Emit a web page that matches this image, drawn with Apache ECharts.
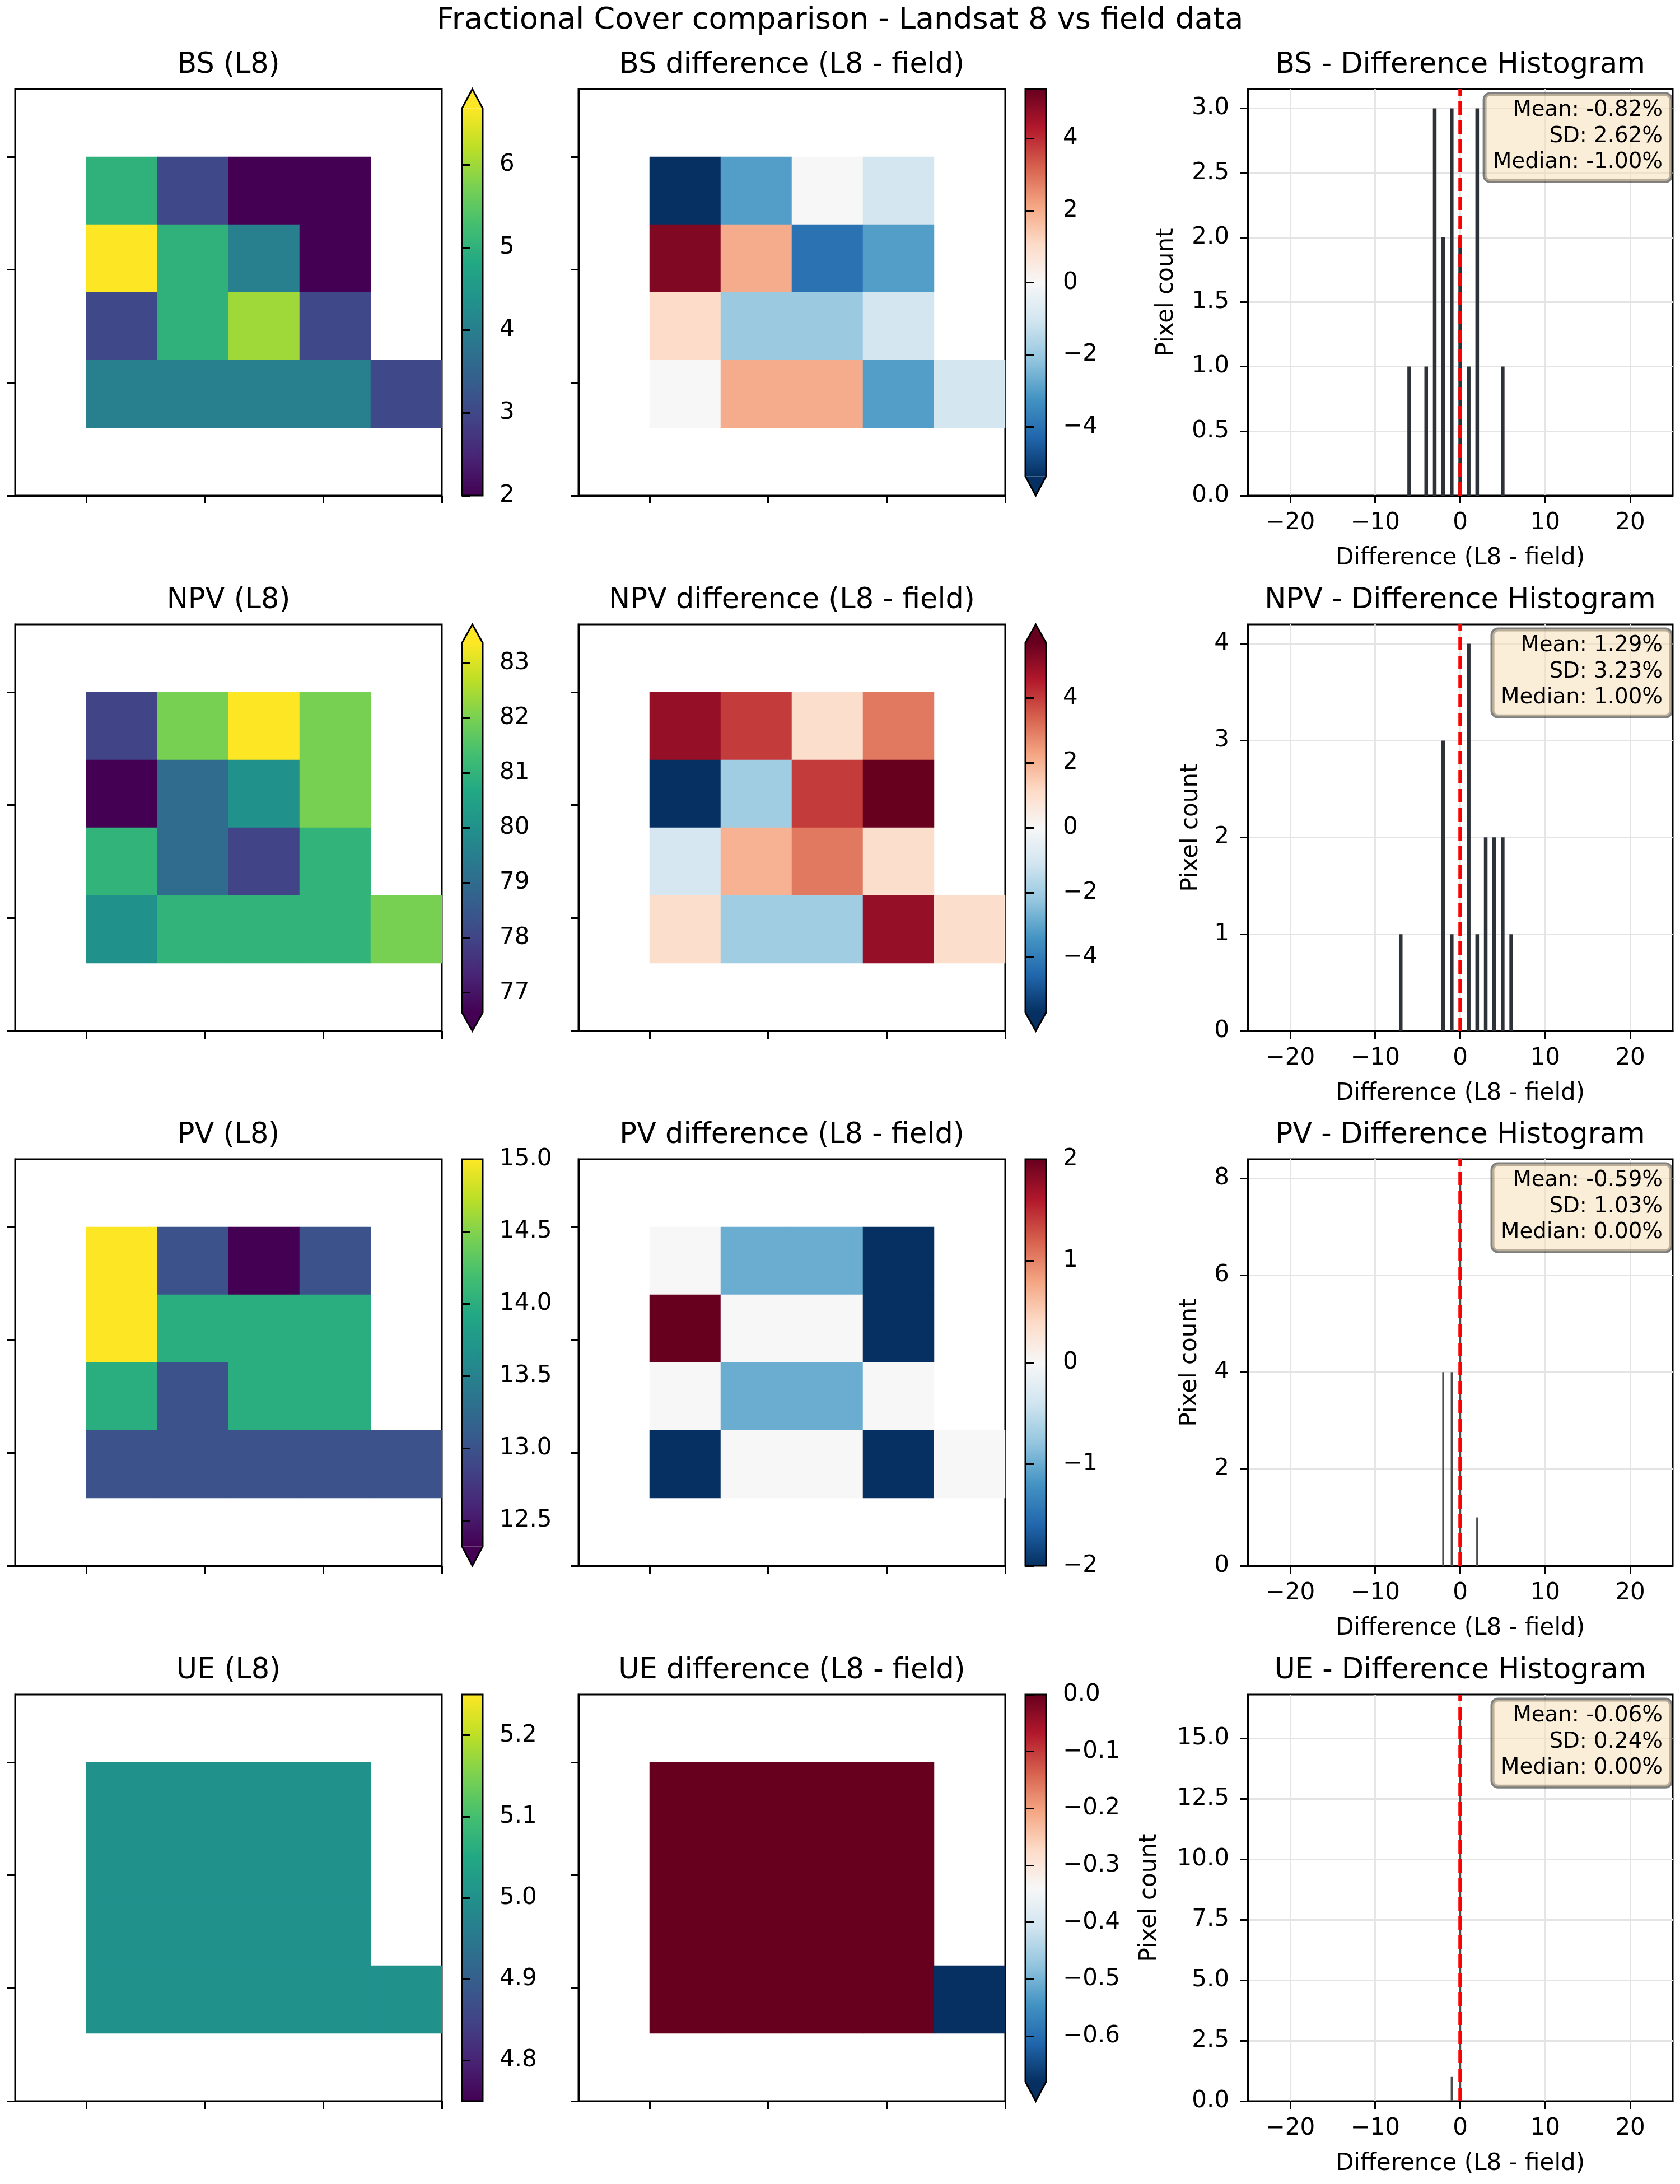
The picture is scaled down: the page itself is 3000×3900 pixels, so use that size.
<!DOCTYPE html>
<html>
<head>
<meta charset="utf-8">
<script src="https://cdn.jsdelivr.net/npm/echarts@6/dist/echarts.min.js"></script>
<style>
  html, body { margin: 0; padding: 0; background: #fff; }
  #chart { width: 3000px; height: 3900px; }
</style>
</head>
<body>
<div id="chart"></div>
<script>
// ---------------- data ----------------
const covers = ['BS', 'NPV', 'PV', 'UE'];

// L8 cover values: rows 1-4 / cols 1-5 of the 6x6 image (null = no data)
const bsL8  = [[5, 3, 2, 2, null], [7, 5, 4, 2, null], [3, 5, 6, 3, null], [4, 4, 4, 4, 3]];
const npvL8 = [[78, 82, 84, 82, null], [76, 79, 80, 82, null], [81, 79, 78, 81, null], [80, 81, 81, 81, 82]];
const pvL8  = [[15, 13, 12, 13, null], [15, 14, 14, 14, null], [14, 13, 14, 14, null], [13, 13, 13, 13, 13]];
const ueL8  = [[5, 5, 5, 5, null], [5, 5, 5, 5, null], [5, 5, 5, 5, null], [5, 5, 5, 5, 5]];

// L8 - field differences, same layout
const bsDiff  = [[-6, -3, 0, -1, null], [5, 2, -4, -3, null], [1, -2, -2, -1, null], [0, 2, 2, -3, -1]];
const npvDiff = [[5, 4, 1, 3, null], [-7, -2, 4, 6, null], [-1, 2, 3, 1, null], [1, -2, -2, 5, 1]];
const pvDiff  = [[0, -1, -1, -2, null], [2, 0, 0, -2, null], [0, -1, -1, 0, null], [-2, 0, 0, -2, 0]];
const ueDiff  = [[0, 0, 0, 0, null], [0, 0, 0, 0, null], [0, 0, 0, 0, null], [0, 0, 0, 0, -1]];

// colour scale limits and colourbar ticks
const l8Range    = [[2, 6.68], [76.64, 83.37], [12.32, 15.0], [4.75, 5.25]];
const diffRange  = [[-5.37, 5.37], [-5.7, 5.7], [-2, 2], [-0.68, 0]];
const l8Extend   = ['max', 'both', 'min', 'neither'];
const diffExtend = ['min', 'both', 'neither', 'min'];
const l8Ticks    = [[2, 3, 4, 5, 6], [77, 78, 79, 80, 81, 82, 83], [12.5, 13, 13.5, 14, 14.5, 15], [4.8, 4.9, 5.0, 5.1, 5.2]];
const diffTicks  = [[-4, -2, 0, 2, 4], [-4, -2, 0, 2, 4], [-2, -1, 0, 1, 2], [-0.6, -0.5, -0.4, -0.3, -0.2, -0.1, 0]];
const l8Dec   = [0, 0, 1, 1];
const diffDec = [0, 0, 0, 1];

// histograms of the differences
const histBins   = [[-6, -4, -3, -2, -1, 0, 1, 2, 5], [-7, -2, -1, 1, 2, 3, 4, 5, 6], [-2, -1, 0, 2], [-1, 0]];
const histCounts = [[1, 1, 3, 2, 3, 2, 1, 3, 1], [1, 3, 1, 4, 1, 2, 2, 2, 1], [4, 4, 8, 1], [1, 16]];
const histYMax   = [3.15, 4.2, 8.4, 16.8];
const histYTicks = [[0, 0.5, 1, 1.5, 2, 2.5, 3], [0, 1, 2, 3, 4], [0, 2, 4, 6, 8], [0, 2.5, 5, 7.5, 10, 12.5, 15]];
const histYDec   = [1, 0, 0, 1];
const histXTicks = [-20, -10, 0, 10, 20];
const statMean   = ['-0.82%', '1.29%', '-0.59%', '-0.06%'];
const statSD     = ['2.62%', '3.23%', '1.03%', '0.24%'];
const statMedian = ['-1.00%', '1.00%', '0.00%', '0.00%'];

const heatTicks = [1, 8 / 3, 13 / 3, 6];
const cells = ['0', '1', '2', '3', '4', '5'];

// ---------------- colour maps ----------------
const VIRIDIS = ['#440154', '#482475', '#414487', '#355f8d', '#2a788e', '#21918c',
                 '#22a884', '#44bf70', '#7ad151', '#bddf26', '#fde725'];
const RDBU_R = ['#053061', '#2166ac', '#4393c3', '#92c5de', '#d1e5f0', '#f7f7f7',
                '#fddbc7', '#f4a582', '#d6604d', '#b2182b', '#67001f'];

// ---------------- layout (px) ----------------
const ROW_TOP = [159, 1115, 2070, 3026];
const AX_H = 726;
const HEAT_L = [27, 1033], HEAT_W = [762, 762];
const CB_L = [825, 1831], CB_W = 37;
const HIST_L = 2228, HIST_W = 759;
const Y_NAME_GAP = [124, 80, 82, 154];
const FONT = 'DejaVu Sans';

function fmt(v, d) {
  const s = Math.abs(v).toFixed(d);
  return v < 0 ? '\u2212' + s : s;
}

const grids = [], xAxes = [], yAxes = [], series = [], visualMaps = [], graphics = [];

function addGrid(opt) {
  grids.push(Object.assign({ containLabel: false }, opt));
  return grids.length - 1;
}

function tickAxis(g, pos, inverse) {
  return {
    gridIndex: g, type: 'value', min: 0, max: 6, position: pos, inverse: inverse,
    axisLine: { show: true, onZero: false, lineStyle: { color: '#000', width: 3 } },
    axisTick: { show: true, length: 14, customValues: heatTicks, lineStyle: { color: '#000', width: 3 } },
    axisLabel: { show: false }, splitLine: { show: false }
  };
}

function heatPanel(row, col, block, range, cmap, title) {
  const top = ROW_TOP[row], left = HEAT_L[col], w = HEAT_W[col];
  const g = addGrid({ left: left, top: top, width: w, height: AX_H, show: true,
    borderColor: '#000', borderWidth: 3, backgroundColor: '#fff' });
  const xc = xAxes.length;
  xAxes.push({ gridIndex: g, type: 'category', data: cells, show: false });
  xAxes.push(tickAxis(g, 'bottom', false));
  const yc = yAxes.length;
  yAxes.push({ gridIndex: g, type: 'category', data: cells, show: false, inverse: true });
  yAxes.push(tickAxis(g, 'left', true));

  const data = [];
  block.forEach((r, i) => r.forEach((v, j) => { if (v !== null) data.push([j + 1, i + 1, v]); }));
  const si = series.length;
  series.push({ type: 'heatmap', xAxisIndex: xc, yAxisIndex: yc, data: data,
    emphasis: { disabled: true }, itemStyle: { borderWidth: 0 }, z: 1 });
  visualMaps.push({ type: 'continuous', show: false, seriesIndex: si, dimension: 2,
    min: range[0], max: range[1], inRange: { color: cmap }, outOfRange: { color: cmap } });

  graphics.push({ type: 'text', z: 100, style: { text: title, x: left + w / 2, y: top - 42,
    align: 'center', verticalAlign: 'middle', font: '51px "' + FONT + '"', fill: '#000' } });
}

function colorbar(row, col, range, extend, ticks, dec, cmap) {
  const hasTop = extend === 'max' || extend === 'both';
  const hasBot = extend === 'min' || extend === 'both';
  const L = AX_H / (1 + 0.05 * ((hasTop ? 1 : 0) + (hasBot ? 1 : 0)));
  const ext = 0.05 * L;
  const top = ROW_TOP[row] + (hasTop ? ext : 0);
  const left = CB_L[col];
  const n = cmap.length;
  const stops = cmap.map((c, i) => ({ offset: i / (n - 1), color: cmap[n - 1 - i] }));
  const g = addGrid({ left: left, top: top, width: CB_W, height: L, show: true, borderWidth: 0,
    backgroundColor: { type: 'linear', x: 0, y: 0, x2: 0, y2: 1, colorStops: stops } });
  xAxes.push({ gridIndex: g, type: 'value', min: 0, max: 1, show: false });
  yAxes.push({
    gridIndex: g, type: 'value', min: range[0], max: range[1], position: 'right',
    axisLine: { show: false },
    axisTick: { show: true, length: 15, customValues: ticks, lineStyle: { color: '#000', width: 3 } },
    axisLabel: { customValues: ticks, formatter: v => fmt(v, dec), fontSize: 42, color: '#000',
      fontFamily: FONT, margin: 30 },
    splitLine: { show: false }
  });

  const x0 = left, x1 = left + CB_W, xm = left + CB_W / 2, yT = top, yB = top + L;
  if (hasTop) graphics.push({ type: 'polygon', z: 50, shape: { points: [[x0, yT], [xm, yT - ext], [x1, yT]] },
    style: { fill: cmap[n - 1] } });
  if (hasBot) graphics.push({ type: 'polygon', z: 50, shape: { points: [[x0, yB], [xm, yB + ext], [x1, yB]] },
    style: { fill: cmap[0] } });
  const pts = [[x0, yT]];
  if (hasTop) pts.push([xm, yT - ext]);
  pts.push([x1, yT], [x1, yB]);
  if (hasBot) pts.push([xm, yB + ext]);
  pts.push([x0, yB]);
  graphics.push({ type: 'polygon', z: 51, shape: { points: pts },
    style: { fill: null, stroke: '#000', lineWidth: 3 } });
}

function histPanel(row) {
  const top = ROW_TOP[row];
  const g = addGrid({ left: HIST_L, top: top, width: HIST_W, height: AX_H, show: true,
    borderColor: '#000', borderWidth: 3, backgroundColor: '#fff' });
  const xi = xAxes.length, yi = yAxes.length;
  xAxes.push({
    gridIndex: g, type: 'value', min: -25, max: 25, position: 'bottom',
    axisLine: { show: true, onZero: false, lineStyle: { color: '#000', width: 3 } },
    axisTick: { show: true, length: 14, customValues: histXTicks, lineStyle: { color: '#000', width: 3 } },
    axisLabel: { customValues: histXTicks, formatter: v => fmt(v, 0), fontSize: 42, color: '#000',
      fontFamily: FONT, margin: 28 },
    splitLine: { show: true, lineStyle: { color: '#e4e4e4', width: 2.8 } },
    name: 'Difference (L8 - field)', nameLocation: 'middle', nameGap: 91,
    nameTextStyle: { fontSize: 42, color: '#000', fontFamily: FONT }
  });
  yAxes.push({
    gridIndex: g, type: 'value', min: 0, max: histYMax[row], position: 'left',
    axisLine: { show: true, onZero: false, lineStyle: { color: '#000', width: 3 } },
    axisTick: { show: true, length: 14, customValues: histYTicks[row], lineStyle: { color: '#000', width: 3 } },
    axisLabel: { customValues: histYTicks[row], formatter: v => fmt(v, histYDec[row]), fontSize: 42,
      color: '#000', fontFamily: FONT, margin: 33 },
    splitLine: { show: true, lineStyle: { color: '#e4e4e4', width: 2.8 } },
    name: 'Pixel count', nameLocation: 'middle', nameGap: Y_NAME_GAP[row], nameRotate: 90,
    nameTextStyle: { fontSize: 42, color: '#000', fontFamily: FONT }
  });
  const thin = row >= 2;
  series.push({
    type: 'bar', xAxisIndex: xi, yAxisIndex: yi,
    data: histBins[row].map((b, i) => [b, histCounts[row][i]]),
    barWidth: thin ? 3.5 : 6.5,
    itemStyle: { color: thin ? '#4d4d4d' : '#2c3238' },
    emphasis: { disabled: true },
    markLine: {
      silent: true, symbol: 'none', animation: false,
      label: { show: false },
      lineStyle: { color: '#ff0000', type: [24, 10], width: 6.5, opacity: 1 },
      emphasis: { disabled: true },
      data: [{ xAxis: 0 }]
    }
  });

  graphics.push({ type: 'text', z: 100, style: {
    text: covers[row] + ' - Difference Histogram', x: HIST_L + HIST_W / 2, y: top - 42,
    align: 'center', verticalAlign: 'middle', font: '51px "' + FONT + '"', fill: '#000' } });
  graphics.push({ type: 'text', z: 100, style: {
    text: 'Mean: ' + statMean[row] + '\nSD: ' + statSD[row] + '\nMedian: ' + statMedian[row],
    x: HIST_L + HIST_W - 3, y: top + 9, align: 'right', verticalAlign: 'top',
    font: '38.7px "' + FONT + '"', fill: '#000', lineHeight: 46.4,
    backgroundColor: 'rgba(245,222,179,0.5)', borderColor: 'rgba(0,0,0,0.5)', borderWidth: 3.5,
    borderRadius: 10, padding: [6, 15, 10, 15] } });
}

const l8Blocks = [bsL8, npvL8, pvL8, ueL8];
const diffBlocks = [bsDiff, npvDiff, pvDiff, ueDiff];

for (let r = 0; r < 4; r++) {
  heatPanel(r, 0, l8Blocks[r], l8Range[r], VIRIDIS, covers[r] + ' (L8)');
  colorbar(r, 0, l8Range[r], l8Extend[r], l8Ticks[r], l8Dec[r], VIRIDIS);
  heatPanel(r, 1, diffBlocks[r], diffRange[r], RDBU_R, covers[r] + ' difference (L8 - field)');
  colorbar(r, 1, diffRange[r], diffExtend[r], diffTicks[r], diffDec[r], RDBU_R);
  histPanel(r);
}

graphics.push({ type: 'text', z: 100, style: {
  text: 'Fractional Cover comparison - Landsat 8 vs field data', x: 1500, y: 37,
  align: 'center', verticalAlign: 'middle', font: '54px "' + FONT + '"', fill: '#000' } });

const chart = echarts.init(document.getElementById('chart'), null, { renderer: 'canvas' });
chart.setOption({
  animation: false,
  backgroundColor: '#fff',
  textStyle: { fontFamily: FONT },
  grid: grids,
  xAxis: xAxes,
  yAxis: yAxes,
  visualMap: visualMaps,
  series: series,
  graphic: graphics
});
</script>
</body>
</html>
